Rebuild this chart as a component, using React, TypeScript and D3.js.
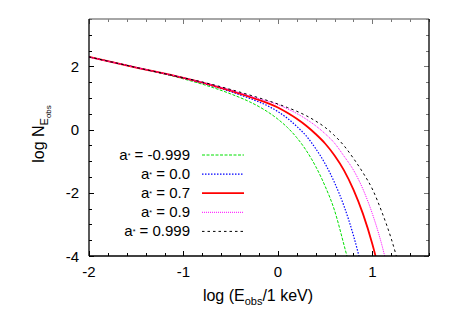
import React, { useRef, useEffect } from 'react'
import * as d3 from 'd3'

// spin values (legend order)
const spins = ['-0.999', '0.0', '0.7', '0.9', '0.999']

// log E_obs / log N_Eobs
const greenE = [-2, -1.5, -1, -0.75, -0.5, -0.3, -0.15, 0, 0.1, 0.2, 0.3, 0.4, 0.5, 0.6, 0.7, 0.8]
const greenN = [2.30, 1.965, 1.605, 1.39, 1.13, 0.88, 0.64, 0.33, 0.07, -0.255, -0.66, -1.165, -1.79, -2.56, -3.65, -4.8]

const blueE = [-2, -1.5, -1, -0.75, -0.5, -0.3, -0.1, 0, 0.1, 0.2, 0.3, 0.4, 0.5, 0.6, 0.7, 0.8, 0.9]
const blueN = [2.30, 1.965, 1.625, 1.43, 1.20, 0.99, 0.74, 0.57, 0.36, 0.10, -0.2, -0.6, -1.08, -1.68, -2.42, -3.35, -4.5]

const redE = [-2, -1.5, -1, -0.75, -0.5, -0.25, 0, 0.1, 0.2, 0.3, 0.4, 0.5, 0.6, 0.7, 0.8, 0.9, 1.0, 1.1]
const redN = [2.30, 1.965, 1.635, 1.45, 1.23, 0.99, 0.70, 0.53, 0.34, 0.12, -0.14, -0.44, -0.82, -1.29, -1.9, -2.66, -3.62, -4.8]

const magE = [-2, -1.5, -1, -0.75, -0.5, -0.25, 0, 0.1, 0.2, 0.3, 0.4, 0.5, 0.6, 0.7, 0.8, 0.9, 1.0, 1.1, 1.2]
const magN = [2.30, 1.965, 1.64, 1.46, 1.25, 1.02, 0.79, 0.66, 0.51, 0.33, 0.12, -0.13, -0.43, -0.84, -1.28, -1.88, -2.66, -3.64, -4.9]

const blackE = [-2, -1.5, -1, -0.75, -0.5, -0.25, 0, 0.1, 0.2, 0.3, 0.4, 0.5, 0.6, 0.7, 0.8, 0.9, 1.0, 1.1, 1.2, 1.3]
const blackN = [2.30, 1.965, 1.64, 1.47, 1.27, 1.05, 0.81, 0.70, 0.58, 0.44, 0.27, 0.07, -0.19, -0.51, -0.91, -1.36, -1.88, -2.6, -3.45, -4.5]

const xLabels = [-2, -1, 0, 1]
const yLabels = [-4, -2, 0, 2]

export default function App() {
  const svgRef = useRef<SVGSVGElement>(null)

  useEffect(() => {
    const svg = d3.select(svgRef.current)
    svg.selectAll('*').remove()

    const left = 89, right = 429, top = 19, bottom = 256
    const x = d3.scaleLinear().domain([-2, 1.6]).range([left, right])
    const y = d3.scaleLinear().domain([-4, 3.5]).range([bottom, top])
    const font = 'Liberation Sans, Arial, Helvetica, sans-serif'

    svg.append('defs').append('clipPath').attr('id', 'plotclip')
      .append('rect').attr('x', left).attr('y', top)
      .attr('width', right - left).attr('height', bottom - top)

    const series = [
      { e: greenE, n: greenN, color: '#00e000', dash: '3,1.5', w: 1 },
      { e: blueE, n: blueN, color: '#0000ff', dash: '1.5,1.5', w: 1.2 },
      { e: redE, n: redN, color: '#ff0000', dash: null, w: 1.8 },
      { e: magE, n: magN, color: '#ff00ff', dash: '1,1', w: 1 },
      { e: blackE, n: blackN, color: '#000000', dash: '2.5,3', w: 1 },
    ]

    const line = d3.line<[number, number]>()
      .curve(d3.curveMonotoneX)
      .x(d => x(d[0]))
      .y(d => y(d[1]))

    const curves = svg.append('g').attr('clip-path', 'url(#plotclip)')
    series.forEach(s => {
      const pts = s.e.map((v, i) => [v, s.n[i]] as [number, number])
      curves.append('path')
        .attr('d', line(pts))
        .attr('fill', 'none')
        .attr('stroke', s.color)
        .attr('stroke-width', s.w)
        .attr('stroke-dasharray', s.dash)
    })

    // ticks (inward, mirrored)
    const ticks = svg.append('g').attr('stroke', '#000').attr('stroke-width', 1)
    d3.range(-2, 1.6001, 0.2).forEach(t => {
      const major = Math.abs(t - Math.round(t)) < 1e-6
      const len = major ? 5 : 3
      const px = Math.round(x(t)) + 0.5
      ticks.append('line').attr('x1', px).attr('x2', px).attr('y1', bottom).attr('y2', bottom - len)
      ticks.append('line').attr('x1', px).attr('x2', px).attr('y1', top).attr('y2', top + len)
        .attr('stroke', '#777')
    })
    d3.range(-4, 3.5001, 0.5).forEach(t => {
      const major = yLabels.includes(t)
      const len = major ? 5 : 3
      const py = Math.round(y(t)) + 0.5
      ticks.append('line').attr('x1', left).attr('x2', left + len).attr('y1', py).attr('y2', py)
      ticks.append('line').attr('x1', right).attr('x2', right - len).attr('y1', py).attr('y2', py)
        .attr('stroke', '#777')
    })

    // frame
    svg.append('line').attr('x1', left).attr('x2', right).attr('y1', top).attr('y2', top)
      .attr('stroke', '#888').attr('stroke-width', 1.6)
    svg.append('line').attr('x1', left).attr('x2', right).attr('y1', bottom).attr('y2', bottom)
      .attr('stroke', '#000').attr('stroke-width', 1.3)
    svg.append('line').attr('x1', left).attr('x2', left).attr('y1', top).attr('y2', bottom)
      .attr('stroke', '#000').attr('stroke-width', 1.3)
    svg.append('line').attr('x1', right).attr('x2', right).attr('y1', top).attr('y2', bottom)
      .attr('stroke', '#000').attr('stroke-width', 1.3)

    // tick labels
    svg.append('g').selectAll('text').data(xLabels).enter().append('text')
      .attr('x', d => x(d)).attr('y', 277)
      .attr('text-anchor', 'middle')
      .attr('font-family', font).attr('font-size', 15)
      .text(d => String(d))
    svg.append('g').selectAll('text').data(yLabels).enter().append('text')
      .attr('x', 79).attr('y', d => y(d) + 5.5)
      .attr('text-anchor', 'end')
      .attr('font-family', font).attr('font-size', 15)
      .text(d => String(d))

    // x title
    const xt = svg.append('text')
      .attr('x', 258).attr('y', 301)
      .attr('text-anchor', 'middle')
      .attr('font-family', font).attr('font-size', 16)
    xt.append('tspan').text('log (E')
    xt.append('tspan').attr('font-size', 11).attr('dy', 4).text('obs')
    xt.append('tspan').attr('dy', -4).text('/1 keV)')

    // y title
    const yt = svg.append('text')
      .attr('transform', 'translate(44,134) rotate(-90)')
      .attr('text-anchor', 'middle')
      .attr('font-family', font).attr('font-size', 16)
    yt.append('tspan').text('log N')
    yt.append('tspan').attr('font-size', 11).attr('dy', 4).text('E')
    yt.append('tspan').attr('font-size', 8).attr('dy', 3).text('obs')

    // legend
    const leg = svg.append('g')
    series.forEach((s, i) => {
      const cy = 155 + i * 19.1
      const t = leg.append('text')
        .attr('x', 190).attr('y', cy + 5)
        .attr('text-anchor', 'end')
        .attr('font-family', font).attr('font-size', 15)
      t.append('tspan').text('a')
      t.append('tspan').attr('font-size', 7).attr('dy', -2).text('*')
      t.append('tspan').attr('dy', 2).text(' = ' + spins[i])
      leg.append('line')
        .attr('x1', 202).attr('x2', 244).attr('y1', cy).attr('y2', cy)
        .attr('stroke', s.color)
        .attr('stroke-width', s.w)
        .attr('stroke-dasharray', s.dash)
    })
  }, [])

  return (
    <svg ref={svgRef} width={463} height={324}
      style={{ position: 'absolute', left: 0, top: 0, background: '#fff' }} />
  )
}
